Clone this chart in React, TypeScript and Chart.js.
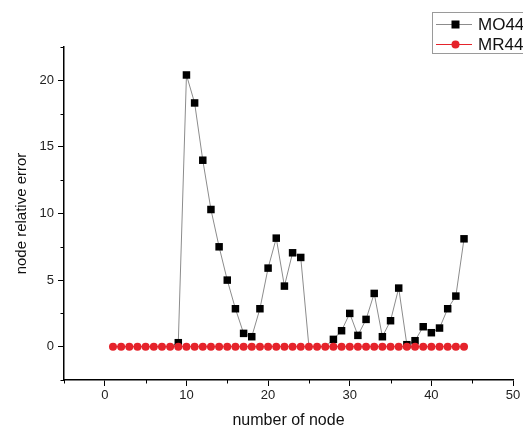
import React, { useEffect, useRef } from "react";
import { Chart, registerables } from "chart.js";

Chart.register(...registerables);

const nodes = [
  1, 2, 3, 4, 5, 6, 7, 8, 9, 10, 11, 12, 13, 14, 15, 16, 17, 18, 19, 20, 21, 22,
  23, 24, 25, 26, 27, 28, 29, 30, 31, 32, 33, 34, 35, 36, 37, 38, 39, 40, 41, 42, 43, 44,
];
const mo44 = [
  0, 0, 0, 0, 0, 0, 0, 0, 0.3, 20.4, 18.3, 14.0, 10.3, 7.5, 5.0, 2.85, 1.0, 0.75, 2.85, 5.9,
  8.15, 4.55, 7.05, 6.7, 0, 0, 0, 0.55, 1.2, 2.5, 0.85, 2.05, 4.0, 0.75, 1.95, 4.4, 0.15, 0.45,
  1.5, 1.05, 1.4, 2.85, 3.8, 8.1,
];
const mr44 = [
  0, 0, 0, 0, 0, 0, 0, 0, 0, 0, 0, 0, 0, 0, 0, 0, 0, 0, 0, 0, 0, 0,
  0, 0, 0, 0, 0, 0, 0, 0, 0, 0, 0, 0, 0, 0, 0, 0, 0, 0, 0, 0, 0, 0,
];
const seriesNames = ["MO44", "MR44"];
const xTicks = [0, 10, 20, 30, 40, 50];
const xMinorTicks = [-5, 5, 15, 25, 35, 45];
const yTicks = [0, 5, 10, 15, 20];
const yMinorTicks = [-2.5, 2.5, 7.5, 12.5, 17.5, 22.5];
const xTitle = "number of node";
const yTitle = "node relative error";

const FONT = "Arial, 'Liberation Sans', sans-serif";
const MO_LINE = "#8c8c8c";
const MO_MARK = "#000000";
const MR_COLOR = "#e5232b";

const minorTicksPlugin = {
  id: "minorTicks",
  afterDraw(chart: any) {
    const ctx = chart.ctx;
    const xs = chart.scales.x;
    const ys = chart.scales.y;
    const area = chart.chartArea;
    ctx.save();
    ctx.strokeStyle = "#000";
    ctx.lineWidth = 1;
    xMinorTicks.forEach((v) => {
      const px = Math.round(xs.getPixelForValue(v)) + 0.5;
      ctx.beginPath();
      ctx.moveTo(px, area.bottom);
      ctx.lineTo(px, area.bottom + 3.5);
      ctx.stroke();
    });
    yMinorTicks.forEach((v) => {
      const py = Math.round(ys.getPixelForValue(v)) + 0.5;
      ctx.beginPath();
      ctx.moveTo(area.left, py);
      ctx.lineTo(area.left - 3.5, py);
      ctx.stroke();
    });
    ctx.restore();
  },
};

const legendPlugin = {
  id: "originLegend",
  afterDraw(chart: any) {
    const ctx = chart.ctx;
    ctx.save();
    ctx.strokeStyle = "#9a9a9a";
    ctx.lineWidth = 1;
    ctx.strokeRect(432.5, 12.5, 100, 41);
    const rows = [
      { name: seriesNames[0], y: 24, line: MO_LINE, kind: "rect" },
      { name: seriesNames[1], y: 44, line: MR_COLOR, kind: "circle" },
    ];
    rows.forEach((r) => {
      ctx.strokeStyle = r.line;
      ctx.lineWidth = 1;
      ctx.beginPath();
      ctx.moveTo(436, r.y + 0.5);
      ctx.lineTo(472, r.y + 0.5);
      ctx.stroke();
      if (r.kind === "rect") {
        ctx.fillStyle = MO_MARK;
        ctx.fillRect(451.5, r.y - 3.5, 8, 8);
      } else {
        ctx.fillStyle = MR_COLOR;
        ctx.beginPath();
        ctx.arc(455.5, r.y + 0.5, 4, 0, Math.PI * 2);
        ctx.fill();
      }
      ctx.fillStyle = "#111";
      ctx.font = `17px ${FONT}`;
      ctx.textBaseline = "middle";
      ctx.textAlign = "left";
      ctx.fillText(r.name, 478, r.y + 1);
    });
    ctx.restore();
  },
};

export default function App() {
  const canvasRef = useRef<HTMLCanvasElement | null>(null);

  useEffect(() => {
    const canvas = canvasRef.current;
    if (!canvas) return;
    const chart = new Chart(canvas, {
      type: "line",
      data: {
        datasets: [
          {
            label: seriesNames[0],
            data: nodes.map((n, i) => ({ x: n, y: mo44[i] })),
            borderColor: MO_LINE,
            borderWidth: 1,
            backgroundColor: MO_MARK,
            pointStyle: "rect",
            pointRadius: (c: any) => (c.raw && c.raw.y === 0 ? 0 : 5.3),
            pointBackgroundColor: MO_MARK,
            pointBorderColor: MO_MARK,
            pointBorderWidth: 0,
            tension: 0,
            order: 1,
          },
          {
            label: seriesNames[1],
            data: nodes.map((n, i) => ({ x: n, y: mr44[i] })),
            borderColor: MR_COLOR,
            borderWidth: 1,
            backgroundColor: MR_COLOR,
            pointStyle: "circle",
            pointRadius: 4,
            pointBackgroundColor: MR_COLOR,
            pointBorderColor: MR_COLOR,
            pointBorderWidth: 0,
            tension: 0,
            order: 0,
          },
        ],
      },
      options: {
        animation: false,
        responsive: true,
        maintainAspectRatio: false,
        layout: { padding: { top: 47, right: 10, left: 0, bottom: 0 } },
        plugins: {
          legend: { display: false },
          tooltip: { enabled: false },
        },
        scales: {
          x: {
            type: "linear",
            min: -5,
            max: 50,
            afterBuildTicks: (s: any) => {
              s.ticks = xTicks.map((v) => ({ value: v }));
            },
            afterFit: (s: any) => {
              s.height = 49;
            },
            grid: {
              drawOnChartArea: false,
              drawTicks: true,
              tickLength: 6,
              color: "#000",
              lineWidth: 1,
            },
            border: { display: true, color: "#000", width: 1.5 },
            ticks: {
              color: "#222",
              font: { size: 13, family: FONT },
              padding: 2,
              maxRotation: 0,
              autoSkip: false,
            },
            title: {
              display: true,
              text: xTitle,
              color: "#111",
              font: { size: 16, family: FONT, lineHeight: 1 },
              padding: { top: 0, bottom: 0 },
            },
          },
          y: {
            type: "linear",
            min: -2.5,
            max: 22.5,
            afterBuildTicks: (s: any) => {
              s.ticks = yTicks.map((v) => ({ value: v }));
            },
            afterFit: (s: any) => {
              s.width = 64;
            },
            grid: {
              drawOnChartArea: false,
              drawTicks: true,
              tickLength: 6,
              color: "#000",
              lineWidth: 1,
            },
            border: { display: true, color: "#000", width: 1.5 },
            ticks: {
              color: "#222",
              font: { size: 13, family: FONT },
              padding: 4,
            },
            title: {
              display: true,
              text: yTitle,
              color: "#111",
              font: { size: 15, family: FONT, lineHeight: 1 },
              padding: { top: 14, bottom: 0 },
            },
          },
        },
      },
      plugins: [minorTicksPlugin, legendPlugin],
    });
    return () => chart.destroy();
  }, []);

  return (
    <div style={{ position: "absolute", left: 0, top: 0, width: 523, height: 429, background: "#fff" }}>
      <canvas ref={canvasRef} />
    </div>
  );
}
